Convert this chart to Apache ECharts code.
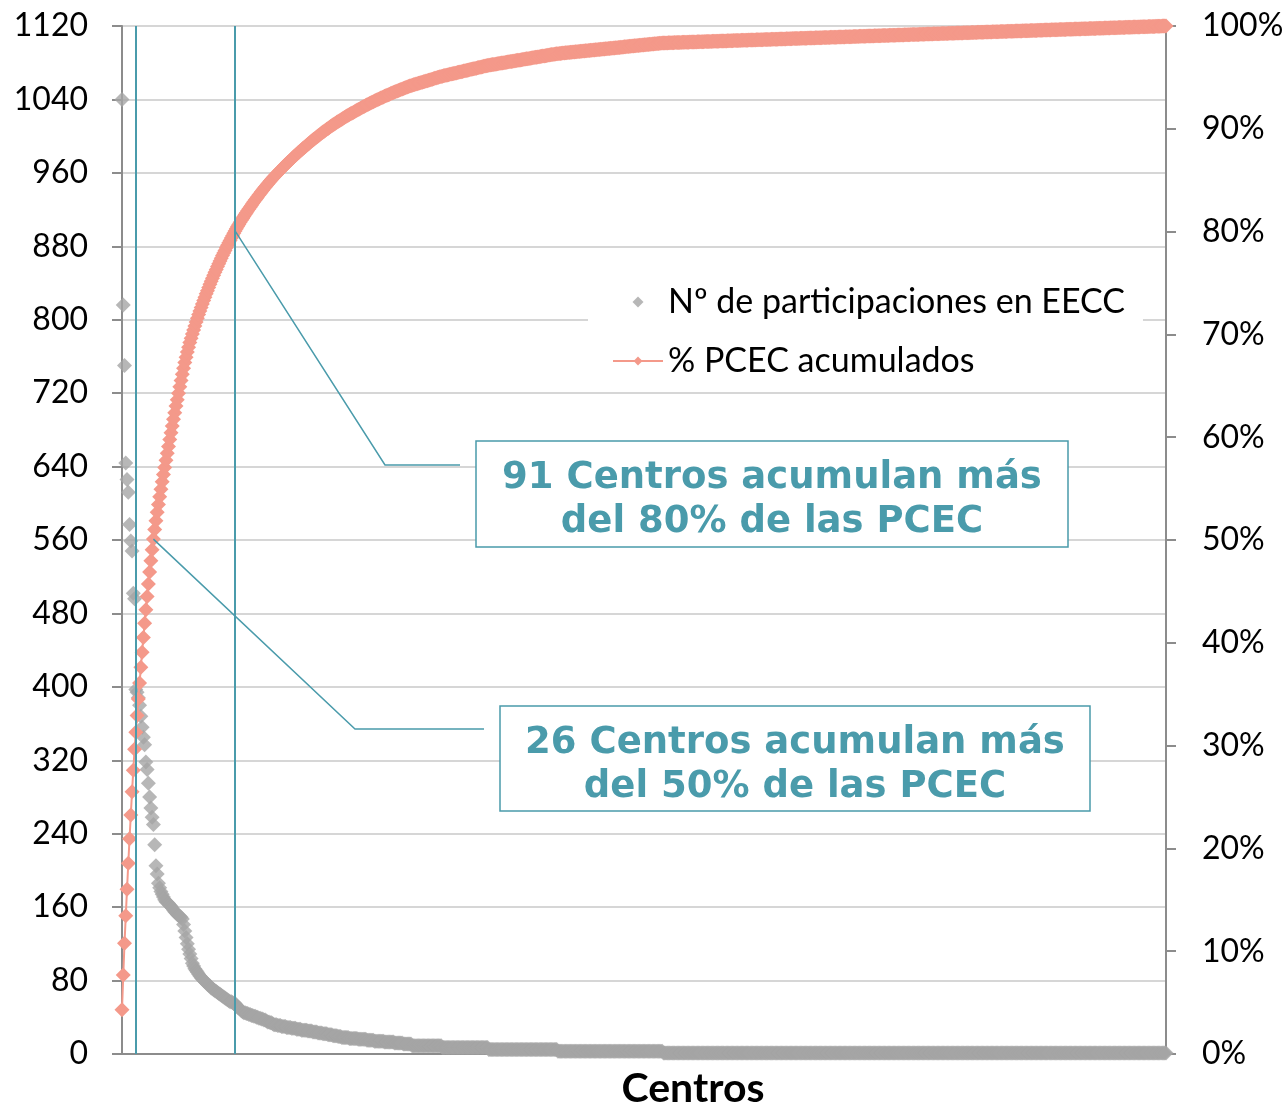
<!DOCTYPE html>
<html lang="es">
<head>
<meta charset="utf-8">
<title>Participaciones de centros en EECC</title>
<script src="https://cdn.jsdelivr.net/npm/echarts@6/dist/echarts.min.js"></script>
<style>
    html, body {margin: 0; padding: 0; background: #fff;}
    #main {width: 1287px; height: 1105px;}
</style>
</head>
<body>
<div id="main"></div>
<script>
// participaciones de los 91 primeros centros, de mayor a menor
var headValues = [
    1040, 816, 750, 644, 626, 612, 577, 559, 548, 502, 496,
    397, 394, 388, 380, 368, 356, 345, 337, 318, 310, 295, 280, 268, 258, 250,
    228, 205, 196, 186, 181, 177, 174, 171, 168,
    166, 165, 164, 162, 161, 159, 157, 155, 154, 152, 151, 150, 149, 147,
    141, 134, 127, 120, 114, 109, 104, 99,
    96, 93, 91, 89, 87, 85, 83,
    82, 80, 79, 78, 76, 75, 74, 72,
    71, 70, 69, 68, 67, 66, 65, 64, 63,
    62, 61, 60, 59, 58, 57, 57, 56, 55, 55
];
// resto de centros: nivel de participaciones y nº de centros con ese nivel
var tailLevels = [53, 51, 50, 49, 47, 46, 45, 44, 43, 42, 41, 40, 39, 38, 37, 36, 35, 34, 33,
    32, 31, 30, 29, 28, 27, 26, 25, 24, 23, 22, 21, 20, 19, 18, 17, 16, 15, 14, 13, 12, 11,
    9, 7, 5, 3, 1];
var tailCounts = [1, 1, 1, 1, 1, 1, 2, 2, 2, 2, 2, 2, 2, 2, 2, 1, 2, 2, 1,
    3, 3, 4, 4, 4, 4, 5, 4, 4, 4, 4, 4, 4, 3, 6, 7, 7, 6, 8, 8, 7, 7,
    24, 37, 55, 84, 401];
// líneas verticales de referencia (nº de centro)
var markCentres = ['12', '91'];

var teal = '#4a9bab';
var grey = '#a5a5a5';
var salmon = '#f4998a';

var participaciones = headValues.slice();
for (var i = 0; i < tailLevels.length; i++) {
    for (var k = 0; k < tailCounts[i]; k++) participaciones.push(tailLevels[i]);
}
var centros = participaciones.map(function (v, i) { return String(i + 1); });

// % acumulado
var total = participaciones.reduce(function (a, b) { return a + b; }, 0);
var acumulado = [];
var run = 0;
participaciones.forEach(function (v) {
    run += v;
    acumulado.push(+(run / total * 100).toFixed(3));
});

var myChart = echarts.init(document.getElementById('main'));

var axisGrey = '#8c8c8c';
var labelFont = {fontFamily: 'Lato', fontSize: 32, color: '#000'};

var option = {
    animation: false,
    grid: {left: 122, right: 121, top: 26, bottom: 51, containLabel: false, outerBoundsMode: 'none'},
    legend: {
        orient: 'vertical',
        left: 588,
        top: 274,
        padding: [10, 18, 10, 24],
        backgroundColor: '#fff',
        itemWidth: 50,
        itemHeight: 11,
        itemGap: 23,
        textStyle: {fontFamily: 'Lato', fontSize: 34, color: '#000', lineHeight: 36},
        data: [
            {name: 'Nº de participaciones en EECC', icon: 'path://M5,0L10,5L5,10L0,5Z'},
            {name: '% PCEC acumulados'}
        ]
    },
    xAxis: {
        type: 'category',
        data: centros,
        boundaryGap: false,
        axisLine: {show: true, lineStyle: {color: axisGrey, width: 2}},
        axisTick: {show: false},
        axisLabel: {show: false},
        splitLine: {show: false},
        name: 'Centros',
        nameLocation: 'middle',
        nameGap: 14,
        nameTextStyle: {fontFamily: 'Lato', fontSize: 41, fontWeight: 'bold', color: '#000', padding: [0, 0, 0, 98]}
    },
    yAxis: [
        {
            type: 'value',
            min: 0,
            max: 1120,
            interval: 80,
            axisLine: {show: true, lineStyle: {color: axisGrey, width: 2}},
            axisTick: {show: true, length: 10, lineStyle: {color: axisGrey, width: 2}},
            splitLine: {show: true, lineStyle: {color: '#c8c8c8', width: 1.5}},
            axisLabel: Object.assign({margin: 34, formatter: function (v) { return String(v); }}, labelFont)
        },
        {
            type: 'value',
            position: 'right',
            min: 0,
            max: 100,
            interval: 10,
            axisLine: {show: true, lineStyle: {color: axisGrey, width: 2}},
            axisTick: {show: true, length: 10, lineStyle: {color: axisGrey, width: 2}},
            splitLine: {show: false},
            axisLabel: Object.assign({margin: 36, formatter: '{value}%'}, labelFont)
        }
    ],
    series: [
        {
            name: 'Nº de participaciones en EECC',
            type: 'scatter',
            data: participaciones,
            symbol: 'diamond',
            symbolSize: 15,
            itemStyle: {color: grey},
            markLine: {
                silent: true,
                symbol: 'none',
                label: {show: false},
                lineStyle: {color: teal, width: 2, type: 'solid'},
                data: markCentres.map(function (c) { return {xAxis: c}; })
            }
        },
        {
            name: '% PCEC acumulados',
            type: 'line',
            yAxisIndex: 1,
            data: acumulado,
            symbol: 'diamond',
            symbolSize: 15,
            showAllSymbol: true,
            lineStyle: {color: salmon, width: 2},
            itemStyle: {color: salmon}
        }
    ]
};
myChart.setOption(option);

// cuadros de texto y líneas guía hacia los puntos 26 y 91
var p91 = myChart.convertToPixel({xAxisIndex: 0, yAxisIndex: 1}, [90, acumulado[90]]);
var p26 = myChart.convertToPixel({xAxisIndex: 0, yAxisIndex: 1}, [25, acumulado[25]]);
var boxFont = 'bold 37px "DejaVu Sans", Verdana, sans-serif';

myChart.setOption({
    graphic: [
        {type: 'polyline', z: 5, shape: {points: [p91, [385, 465], [460, 465]]},
            style: {stroke: teal, lineWidth: 1.5, fill: null}},
        {type: 'polyline', z: 5, shape: {points: [p26, [355, 729], [484, 729]]},
            style: {stroke: teal, lineWidth: 1.5, fill: null}},
        {type: 'rect', z: 5, shape: {x: 476, y: 441, width: 592, height: 106},
            style: {fill: '#fff', stroke: teal, lineWidth: 1.5}},
        {type: 'text', z: 6, x: 772, y: 500,
            style: {text: '91 Centros acumulan más\ndel 80% de las PCEC', font: boxFont, fill: teal,
                align: 'center', verticalAlign: 'middle', lineHeight: 44}},
        {type: 'rect', z: 5, shape: {x: 500, y: 706, width: 590, height: 105},
            style: {fill: '#fff', stroke: teal, lineWidth: 1.5}},
        {type: 'text', z: 6, x: 795, y: 765,
            style: {text: '26 Centros acumulan más\ndel 50% de las PCEC', font: boxFont, fill: teal,
                align: 'center', verticalAlign: 'middle', lineHeight: 44}}
    ]
});
</script>
</body>
</html>
